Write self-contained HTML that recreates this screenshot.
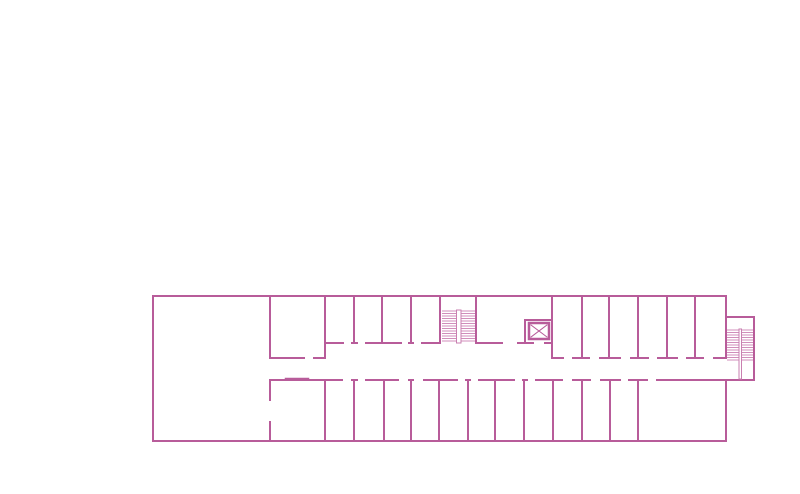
<!DOCTYPE html>
<html><head><meta charset="utf-8"><style>html,body{margin:0;padding:0;background:#fff;width:800px;height:494px;overflow:hidden}</style></head>
<body>
<svg width="800" height="494" viewBox="0 0 800 494" xmlns="http://www.w3.org/2000/svg">
<g stroke="#b85c9a" stroke-width="2" fill="none" stroke-linecap="square">
<!-- outer -->
<path d="M726 358 V296 H153 V441 H726 V380"/>
<path d="M726 317 H754 V380 H657"/>
<!-- left room -->
<path d="M270 296 V358 H304 M314 358 H325 V296"/>
<path d="M270 380 V400 M270 422 V441"/>
<path d="M286 379 H308" stroke-width="2.5"/>
<!-- upper corridor wall -->
<path d="M325 343 H343 M352 343 H357 M366 343 H401 M409 343 H413 M422 343 H440"/>
<path d="M354 296 V343 M382 296 V343 M411 296 V343 M440 296 V343 M476 296 V343"/>
<path d="M476 343 H502 M518 343 H533 M545 343 H552"/>
<!-- elevator -->
<path d="M525 343 V320 H552"/>
<rect x="529" y="323" width="20" height="16" stroke-width="2.5"/>
<path d="M531 325 L547 337 M547 325 L531 337" stroke-width="1"/>
<!-- right upper rooms -->
<path d="M552 296 V358 H563 M573 358 H589 M600 358 H620 M631 358 H648 M658 358 H677 M687 358 H703 M714 358 H726"/>
<path d="M582 296 V358 M609 296 V358 M638 296 V358 M667 296 V358 M695 296 V358"/>
<!-- lower corridor wall -->
<path d="M270 380 H342 M352 380 H357 M366 380 H398 M409 380 H413 M424 380 H457 M466 380 H470 M479 380 H514 M523 380 H527 M536 380 H562 M573 380 H590 M601 380 H620 M629 380 H647"/>
<path d="M325 380 V441 M354 380 V441 M384 380 V441 M411 380 V441 M439 380 V441 M468 380 V441 M495 380 V441 M524 380 V441 M553 380 V441 M582 380 V441 M610 380 V441 M638 380 V441"/>
</g>
<!-- stairs 1 -->
<g stroke="#d08ebb" stroke-width="1">
<path d="M442 311H475M442 313.5H475M442 316H475M442 318.5H475M442 321H475M442 323.5H475M442 326H475M442 328.5H475M442 331H475M442 333.5H475M442 336H475M442 338.5H475M442 341H475"/>
<rect x="456.5" y="310" width="4.5" height="33" fill="#fff" stroke="#c97fb0"/>
</g>
<!-- stairs 2 -->
<g stroke="#d08ebb" stroke-width="1">
<path d="M727 330H753M727 332.5H753M727 335H753M727 337.5H753M727 340H753M727 342.5H753M727 345H753M727 347.5H753M727 350H753M727 352.5H753M727 355H753M727 357.5H753M727 360H753"/>
<rect x="739" y="329" width="2.5" height="50" fill="#fff" stroke="#c97fb0"/>
</g>
</svg>
</body></html>
